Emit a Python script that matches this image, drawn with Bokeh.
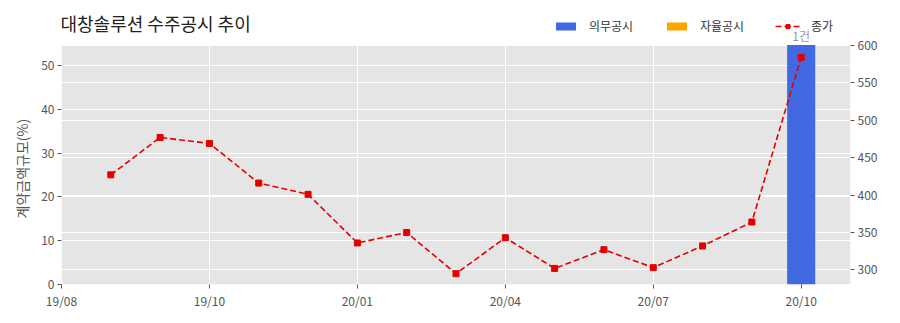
from bokeh.plotting import figure
from bokeh.models import (Range1d, LinearAxis, FixedTicker, Grid, BoxAnnotation, Title,
                          Legend, LegendItem, Label, ColumnDataSource)
from bokeh.embed import file_html
from bokeh.resources import INLINE

# ---- data ----
month_idx = list(range(1, 16))
price = [427, 477, 469, 416, 401, 336, 350, 295, 343, 302, 327, 303, 332, 364, 584]
bar_idx = [15]
mandatory_val = [54.7]
voluntary_val = [0]
bar_label = ["1건"]
tick_pos = [0, 3, 6, 9, 12, 15]
tick_labels = ["19/08", "19/10", "20/01", "20/04", "20/07", "20/10"]
left_ticks = [0, 10, 20, 30, 40, 50]
right_ticks = [300, 350, 400, 450, 500, 550, 600]

FONT = "Noto Sans CJK KR"
TICK_COLOR = "#555555"
BG = "#E5E5E5"

# plot area (gray) spans 0..54.7 on left axis, 280.5..600.5 on right axis
LEFT_TOP = 54.7
R_LO, R_HI = 280.5, 600.5
FRAME_H = 284.0
GRAY_H = 239.5
left_end = LEFT_TOP * FRAME_H / GRAY_H
right_end = R_LO + (R_HI - R_LO) * FRAME_H / GRAY_H

p = figure(width=900, height=323, output_backend="svg", toolbar_location=None,
           x_range=Range1d(0, 16), y_range=Range1d(0, left_end),
           min_border_left=61, min_border_right=50, min_border_top=0, min_border_bottom=39,
           background_fill_color="white", border_fill_color="white", outline_line_color=None)
p.extra_y_ranges = {"price": Range1d(R_LO, right_end)}

p.add_layout(BoxAnnotation(top=LEFT_TOP, fill_color=BG, fill_alpha=1, line_color=None,
                           level="image"))

# axes styling
p.xaxis.ticker = FixedTicker(ticks=tick_pos)
p.xaxis.major_label_overrides = {t: l for t, l in zip(tick_pos, tick_labels)}
p.yaxis.ticker = FixedTicker(ticks=left_ticks)

right = LinearAxis(y_range_name="price", ticker=FixedTicker(ticks=right_ticks))
p.add_layout(right, "right")

for ax in [p.xaxis[0], p.yaxis[0], right]:
    ax.axis_line_color = None
    ax.major_tick_line_color = TICK_COLOR
    ax.major_tick_in = 0
    ax.major_tick_out = 4
    ax.minor_tick_line_color = None
    ax.major_label_text_font = FONT
    ax.major_label_text_font_size = "12px"
    ax.major_label_text_color = TICK_COLOR
    ax.major_label_standoff = 3

# y-axis label, centred on the gray plot area
p.add_layout(Title(text="계약금액규모(%)", align="left", offset=66, standoff=14,
                   text_font=FONT, text_font_size="14px", text_font_style="normal",
                   text_color=TICK_COLOR), "left")

p.xgrid.grid_line_color = "white"
p.xgrid.grid_line_width = 1
p.ygrid.grid_line_color = "white"
p.ygrid.grid_line_width = 1
p.add_layout(Grid(dimension=1, ticker=right.ticker, y_range_name="price",
                  grid_line_color="white", grid_line_width=1))

# bars
bsrc = ColumnDataSource(dict(x=bar_idx, top=mandatory_val, vol=voluntary_val, label=bar_label))
r_bar = p.vbar(x="x", top="top", width=0.57, source=bsrc, fill_color="#4169E1", line_color=None)
r_bar2 = p.vbar(x="x", top="vol", width=0.57, source=bsrc, fill_color="#FFA500", line_color=None)

# price line
psrc = ColumnDataSource(dict(x=month_idx, y=price))
r_line = p.line("x", "y", source=psrc, y_range_name="price", color="#E50000",
                line_width=1.6, line_dash="6 3")
r_pts = p.scatter("x", "y", source=psrc, y_range_name="price", marker="square",
                  size=6, color="#E50000")

for x, v, t in zip(bar_idx, mandatory_val, bar_label):
    p.add_layout(Label(x=x, y=v, text=t, text_align="center", text_baseline="bottom",
                       text_font=FONT, text_font_size="12px", text_color="#999999",
                       y_offset=1))

legend = Legend(items=[LegendItem(label="의무공시", renderers=[r_bar]),
                       LegendItem(label="자율공시", renderers=[r_bar2]),
                       LegendItem(label="종가", renderers=[r_line, r_pts])],
                orientation="horizontal", location=(492, 250),
                background_fill_alpha=0, border_line_color=None,
                label_text_font=FONT, label_text_font_size="12px", label_text_color="#333333",
                glyph_width=25, glyph_height=10, label_standoff=11, label_width=50,
                spacing=25, padding=0, margin=0)
p.add_layout(legend)

p.add_layout(Label(x=-1, y=262, x_units="screen", y_units="screen",
                   text="대창솔루션 수주공시 추이", text_font=FONT, text_font_size="18px",
                   text_color="#222222", text_baseline="middle"))

open("out.html", "w").write(file_html(p, INLINE))
